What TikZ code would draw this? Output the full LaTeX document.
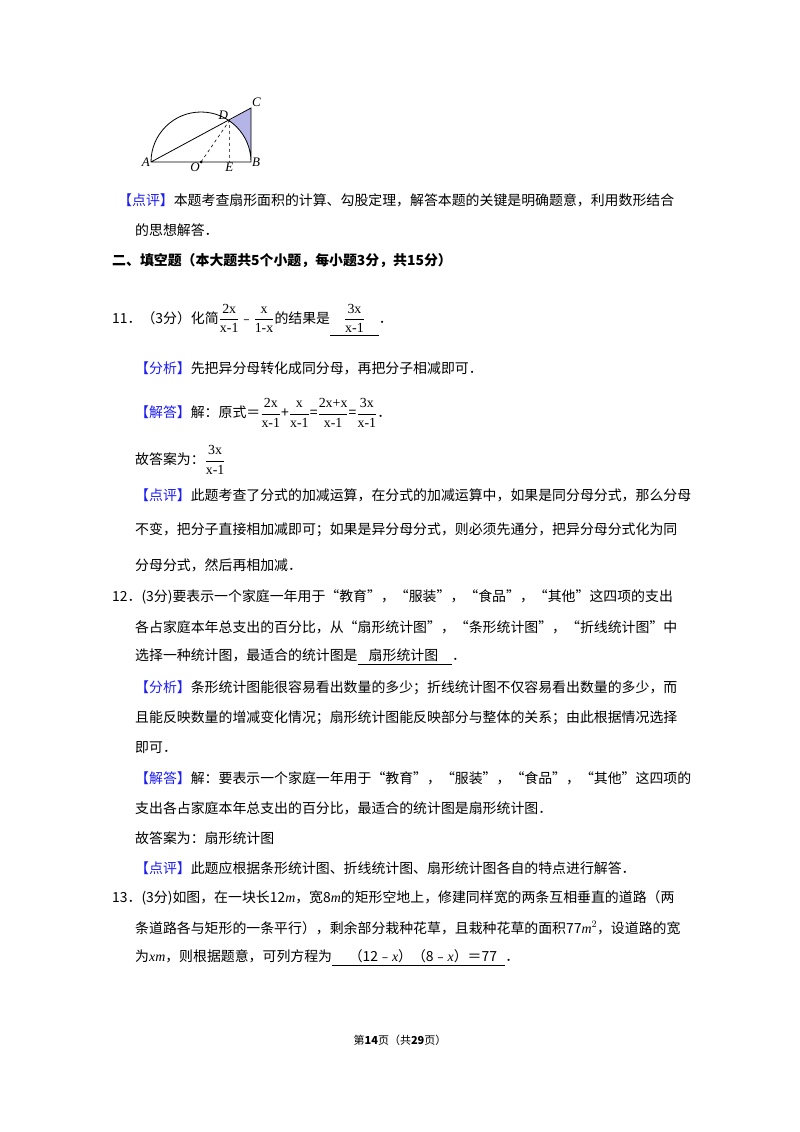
\documentclass[tikz,border=0pt]{standalone}
\usepackage{fontspec}
\usepackage{amsmath}
\usetikzlibrary{calc}
\setmainfont{Noto Sans CJK SC}
\newfontfamily\numfont{Liberation Serif}
\definecolor{lblue}{RGB}{30,30,240}
\definecolor{lavfill}{RGB}{180,180,230}
\newcommand{\bl}[1]{\textcolor{lblue}{#1}}
\newcommand{\fr}[2]{$\dfrac{\text{\numfont #1}}{\text{\numfont #2}}$}
\begin{document}
\begin{tikzpicture}[x=1pt,y=-1pt,
  txt/.style={anchor=west,inner sep=0pt,font=\fontsize{13.9pt}{16pt}\selectfont},
  lbl/.style={inner sep=1pt,font=\fontsize{13pt}{14pt}\selectfont\itshape\numfont}]
\useasboundingbox[fill=white] (0,0) rectangle (800,1132);
% figure
\coordinate (A) at (151,162); \coordinate (B) at (251,162); \coordinate (O) at (201,162);
\coordinate (C) at (251,108);
\coordinate (D) at ($(O)+(-55.5:50)$);
\coordinate (E) at (D|-B);
\fill[lavfill] (D) -- (C) -- (B) arc[start angle=0,end angle=-55.5,radius=50] -- cycle;
\draw[line width=0.8pt] (B) arc[start angle=0,end angle=-180,radius=50] -- (B) -- (C) -- (A);
\draw[dashed,line width=0.6pt] (O) -- (D) -- (E);
\fill (O) circle (1.5);
\node[lbl,anchor=east] at (A) {A};
\node[lbl,anchor=west] at (B) {B};
\node[lbl,anchor=south west] at (C) {C};
\node[lbl,anchor=south east] at (D) {D};
\node[lbl,anchor=north east] at (O) {O};
\node[lbl,anchor=north] at (E) {E};
% text
\node[txt] (t1) at (118,200) {\bl{【点评】}本题考查扇形面积的计算、勾股定理，解答本题的关键是明确题意，利用数形结合};
\node[txt] (t2) at (135,230) {的思想解答．};
\node[txt,font=\fontsize{13.9pt}{16pt}\selectfont\bfseries] (t3) at (112,261) {二、填空题（本大题共5个小题，每小题3分，共15分）};
\node[txt] (t4) at (112,320) {11．（3分）化简\fr{2x}{x-1}﹣\fr{x}{1-x}的结果是\underline{\hspace{1em}\fr{3x}{x-1}\hspace{1em}}．};
\node[txt] (t5) at (135,368) {\bl{【分析】}先把异分母转化成同分母，再把分子相减即可．};
\node[txt] (t6) at (135,413) {\bl{【解答】}解：原式＝\fr{2x}{x-1}+\fr{x}{x-1}=\fr{2x+x}{x-1}=\fr{3x}{x-1}．};
\node[txt] (t7) at (135,460) {故答案为：\fr{3x}{x-1}};
\node[txt] (t8) at (135,495) {\bl{【点评】}此题考查了分式的加减运算，在分式的加减运算中，如果是同分母分式，那么分母};
\node[txt] (t9) at (135,530) {不变，把分子直接相加减即可；如果是异分母分式，则必须先通分，把异分母分式化为同};
\node[txt] (t10) at (135,565) {分母分式，然后再相加减．};
\node[txt] (t11) at (112,597) {12．(3分)要表示一个家庭一年用于“教育”，“服装”，“食品”，“其他”这四项的支出};
\node[txt] (t12) at (135,627) {各占家庭本年总支出的百分比，从“扇形统计图”，“条形统计图”，“折线统计图”中};
\node[txt] (t13) at (135,657) {选择一种统计图，最适合的统计图是\underline{\hspace{0.8em}扇形统计图\hspace{1em}}．};
\node[txt] (t14) at (135,688) {\bl{【分析】}条形统计图能很容易看出数量的多少；折线统计图不仅容易看出数量的多少，而};
\node[txt] (t15) at (135,718) {且能反映数量的增减变化情况；扇形统计图能反映部分与整体的关系；由此根据情况选择};
\node[txt] (t16) at (135,748) {即可．};
\node[txt] (t17) at (135,778) {\bl{【解答】}解：要表示一个家庭一年用于“教育”，“服装”，“食品”，“其他”这四项的};
\node[txt] (t18) at (135,808) {支出各占家庭本年总支出的百分比，最适合的统计图是扇形统计图．};
\node[txt] (t19) at (135,838) {故答案为：扇形统计图};
\node[txt] (t20) at (135,868) {\bl{【点评】}此题应根据条形统计图、折线统计图、扇形统计图各自的特点进行解答．};
\node[txt] (t21) at (112,898) {13．(3分)如图，在一块长12\textit{\numfont m}，宽8\textit{\numfont m}的矩形空地上，修建同样宽的两条互相垂直的道路（两};
\node[txt] (t22) at (135,928) {条道路各与矩形的一条平行），剩余部分栽种花草，且栽种花草的面积77\textit{\numfont m}$^2$，设道路的宽};
\node[txt] (t23) at (135,958) {为\textit{\numfont xm}，则根据题意，可列方程为\underline{\hspace{1.2em}（12﹣\textit{\numfont x}）（8﹣\textit{\numfont x}）＝77\hspace{0.6em}}．};
\node[txt,anchor=center,font=\fontsize{11pt}{12pt}\selectfont] (ft) at (400,1040) {第\textbf{14}页（共\textbf{29}页）};
\end{tikzpicture}
\end{document}
